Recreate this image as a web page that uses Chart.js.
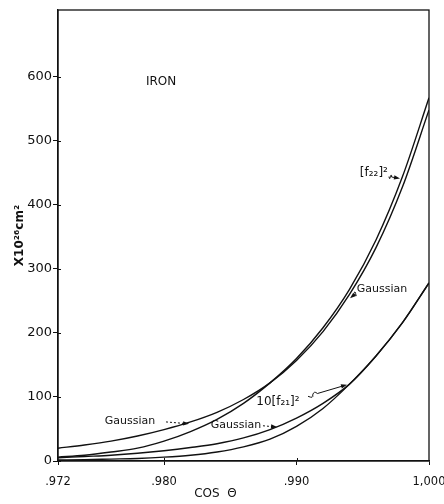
<!DOCTYPE html>
<html>
<head>
<meta charset="utf-8">
<script src="https://cdn.jsdelivr.net/npm/chart.js@4.4.1/dist/chart.umd.min.js"></script>
<style>
  html, body { margin: 0; padding: 0; background: #fff; }
</style>
</head>
<body>
<canvas id="chart" width="444" height="504"></canvas>
<script>
// values (cos theta, x 10^-26 cm^2)
const cosTheta   = [0.972, 0.974, 0.976, 0.978, 0.980, 0.982, 0.984, 0.986, 0.988, 0.990, 0.992, 0.994, 0.996, 0.998, 1.000];
const gaussUpper = [20, 25, 31, 39, 49, 61, 76, 96, 122, 157, 202, 260, 333, 428, 548];
const f22Sq      = [6, 9, 14, 20, 31, 46, 65, 90, 122, 160, 208, 268, 345, 444, 567];
const gaussLower = [5, 7, 9, 12, 16, 21, 27, 36, 49, 67, 90, 120, 164, 216, 278];
const f21Sq10    = [1.5, 2, 3, 4, 6, 9, 14, 22, 34, 54, 82, 120, 164, 216, 278];

const xTicks = [0.972, 0.980, 0.990, 1.000];
const xTickText = ['.972', '.980', '.990', '1,000'];
const yTicks = [0, 100, 200, 300, 400, 500, 600];

const INK = '#111';
const FONT = 'DejaVu Sans';

// labels and arrows, placed in data units
const notes = [
  { text: 'IRON', x: 0.97978, y: 592, size: 12 },
  { text: 'Gaussian', x: 0.97743, y: 62, size: 11 },
  { text: 'Gaussian', x: 0.98543, y: 56, size: 11 },
  { text: '10[f₂₁]²', x: 0.98860, y: 92, size: 12 },
  { text: 'Gaussian', x: 0.99645, y: 268, size: 11 },
  { text: '[f₂₂]²', x: 0.99584, y: 450, size: 12 }
];
const arrows = [
  { from: [0.98015, 61], to: [0.98189, 58], dashed: true },
  { from: [0.98747, 55], to: [0.98853, 53], dashed: true },
  { from: [0.99087, 101], to: [0.99381, 119] },
  { from: [0.99450, 262], to: [0.99404, 254] },
  { from: [0.99698, 444], to: [0.99781, 441] }
];

function pairs(ys) {
  return cosTheta.map((c, i) => ({ x: c, y: ys[i] }));
}

function line(ys) {
  return {
    data: pairs(ys),
    borderColor: INK,
    borderWidth: 1.4,
    pointRadius: 0,
    fill: false,
    cubicInterpolationMode: 'monotone'
  };
}

function drawArrow(ctx, p0, p1, dashed) {
  const dx = p1[0] - p0[0], dy = p1[1] - p0[1];
  const len = Math.hypot(dx, dy);
  const ux = dx / len, uy = dy / len;
  const nx = -uy, ny = ux;
  ctx.beginPath();
  if (dashed) {
    ctx.setLineDash([2, 2]);
    ctx.moveTo(p0[0], p0[1]);
    ctx.lineTo(p1[0] - ux * 4, p1[1] - uy * 4);
  } else {
    // little squiggle near the label, then a straight run
    const a = [p0[0] + dx * 0.12, p0[1] + dy * 0.12];
    const b = [p0[0] + dx * 0.24, p0[1] + dy * 0.24];
    ctx.moveTo(p0[0], p0[1]);
    ctx.quadraticCurveTo(a[0] + nx * 4, a[1] + ny * 4, a[0], a[1]);
    ctx.quadraticCurveTo(a[0] - nx * 4 + dx * 0.06, a[1] - ny * 4 + dy * 0.06, b[0], b[1]);
    ctx.lineTo(p1[0] - ux * 4, p1[1] - uy * 4);
  }
  ctx.stroke();
  ctx.setLineDash([]);
  ctx.beginPath();
  ctx.moveTo(p1[0], p1[1]);
  ctx.lineTo(p1[0] - ux * 6 + nx * 2.2, p1[1] - uy * 6 + ny * 2.2);
  ctx.lineTo(p1[0] - ux * 6 - nx * 2.2, p1[1] - uy * 6 - ny * 2.2);
  ctx.closePath();
  ctx.fill();
}

const frameAndNotes = {
  id: 'frameAndNotes',
  afterDraw(chart) {
    const { ctx, chartArea: a } = chart;
    const xs = chart.scales.x, ys = chart.scales.y;
    ctx.save();
    ctx.strokeStyle = INK;
    ctx.fillStyle = INK;
    ctx.lineWidth = 1.3;
    ctx.strokeRect(a.left, a.top, a.right - a.left, a.bottom - a.top);

    // tick marks cross the axis lines in the original
    ctx.lineWidth = 1;
    ctx.beginPath();
    yTicks.forEach(v => {
      const py = Math.round(ys.getPixelForValue(v)) + 0.5;
      ctx.moveTo(a.left, py); ctx.lineTo(a.left + 3, py);
    });
    xTicks.slice(1, -1).forEach(v => {
      const px = Math.round(xs.getPixelForValue(v)) + 0.5;
      ctx.moveTo(px, a.bottom); ctx.lineTo(px, a.bottom - 3);
    });
    ctx.stroke();

    ctx.textAlign = 'center';
    ctx.textBaseline = 'middle';
    notes.forEach(n => {
      ctx.font = n.size + 'px "' + FONT + '"';
      ctx.fillText(n.text, xs.getPixelForValue(n.x), ys.getPixelForValue(n.y));
    });

    arrows.forEach(ar => {
      const p0 = [xs.getPixelForValue(ar.from[0]), ys.getPixelForValue(ar.from[1])];
      const p1 = [xs.getPixelForValue(ar.to[0]), ys.getPixelForValue(ar.to[1])];
      drawArrow(ctx, p0, p1, ar.dashed);
    });

    // x axis title sits left of centre in the original
    ctx.font = '12px "' + FONT + '"';
    ctx.fillText('COS  Θ', xs.getPixelForValue(0.98388), 494);
    ctx.restore();
  }
};

new Chart(document.getElementById('chart'), {
  type: 'line',
  data: {
    datasets: [line(gaussUpper), line(f22Sq), line(gaussLower), line(f21Sq10)]
  },
  options: {
    responsive: false,
    animation: false,
    layout: { padding: { top: 10, right: 15, left: 0, bottom: 0 } },
    plugins: { legend: { display: false }, tooltip: { enabled: false } },
    scales: {
      x: {
        type: 'linear',
        min: 0.972,
        max: 1.0,
        afterBuildTicks: s => { s.ticks = xTicks.map(v => ({ value: v })); },
        afterFit: s => { s.height = 43; s.paddingLeft = 0; s.paddingRight = 0; },
        grid: { drawOnChartArea: false, tickLength: 4, color: INK, lineWidth: 1 },
        border: { color: INK, width: 1.3 },
        ticks: {
          autoSkip: false,
          maxRotation: 0,
          padding: 10,
          color: INK,
          font: { family: FONT, size: 11.5 },
          callback: (v, i) => xTickText[i]
        }
      },
      y: {
        type: 'linear',
        min: 0,
        max: 704,
        afterBuildTicks: s => { s.ticks = yTicks.map(v => ({ value: v })); },
        afterFit: s => { s.width = 58; s.paddingTop = 0; s.paddingBottom = 0; },
        grid: { drawOnChartArea: false, tickLength: 5, color: INK, lineWidth: 1 },
        border: { color: INK, width: 1.3 },
        ticks: { padding: 1, color: INK, font: { family: FONT, size: 13 } },
        title: {
          display: true,
          text: 'X10²⁶cm²',
          color: INK,
          font: { family: FONT, size: 12, weight: 'bold' },
          padding: { top: 13 }
        }
      }
    }
  },
  plugins: [frameAndNotes]
});
</script>
</body>
</html>
